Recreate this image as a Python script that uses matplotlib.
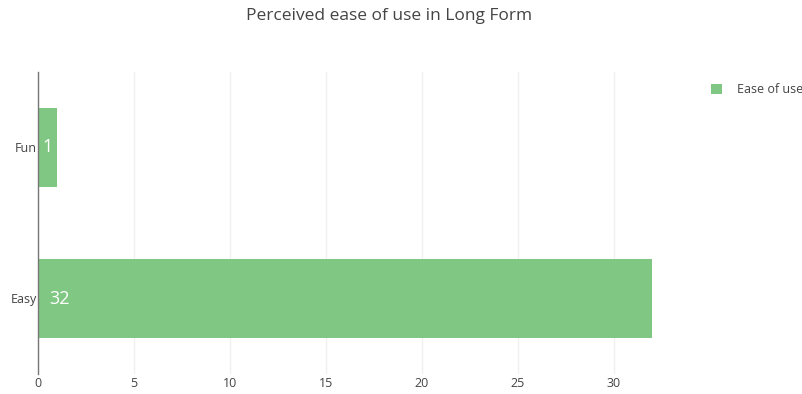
import matplotlib.pyplot as plt

categories = ['Easy', 'Fun']
counts = [32, 1]
series_name = 'Ease of use'
xticks = [0, 5, 10, 15, 20, 25, 30]

plt.rcParams['font.family'] = ['Open Sans', 'DejaVu Sans']
txt = '#444444'
green = '#81c784'

fig = plt.figure(figsize=(8.03, 3.94), dpi=100)
ax = fig.add_axes([38/803, 20/394, 647/803, 302/394])

ypos = list(range(len(categories)))
bars = ax.barh(ypos, counts, height=0.52, color=green, label=series_name, zorder=2)

for y, v in zip(ypos, counts):
    if v >= 3:
        ax.annotate(str(v), (0, y), xytext=(11, 0), textcoords='offset pixels',
                    ha='left', va='center', color='white', fontsize=13, zorder=3)
    else:
        ax.text(v / 2, y, str(v), ha='center', va='center', color='white',
                fontsize=13, zorder=3)

ax.set_xlim(0, 33.7)
ax.set_ylim(-0.5, 1.5)
ax.set_yticks(ypos)
ax.set_yticklabels(categories)
ax.set_xticks(xticks)
ax.grid(axis='x', color='#f0f0f0', linewidth=1, zorder=0)
for s in ['top', 'right', 'bottom']:
    ax.spines[s].set_visible(False)
ax.spines['left'].set_color('#777777')
ax.spines['left'].set_linewidth(1)
ax.spines['left'].set_zorder(4)
ax.tick_params(axis='both', length=0, colors=txt, labelsize=9)
ax.tick_params(axis='x', pad=2.5)
ax.tick_params(axis='y', pad=1)

fig.text(389/803, 1 - 16/394, 'Perceived ease of use in Long Form', ha='center', va='center',
         color=txt, fontsize=12.5)

fig.legend(handles=[bars], labels=[series_name], loc='upper left',
           bbox_to_anchor=(711/803, 1 - 83/394), frameon=False, fontsize=9,
           labelcolor=txt, handlelength=0.9, handleheight=0.9, handletextpad=1.2,
           borderaxespad=0, borderpad=0)

fig.savefig('out.png', dpi=100)
